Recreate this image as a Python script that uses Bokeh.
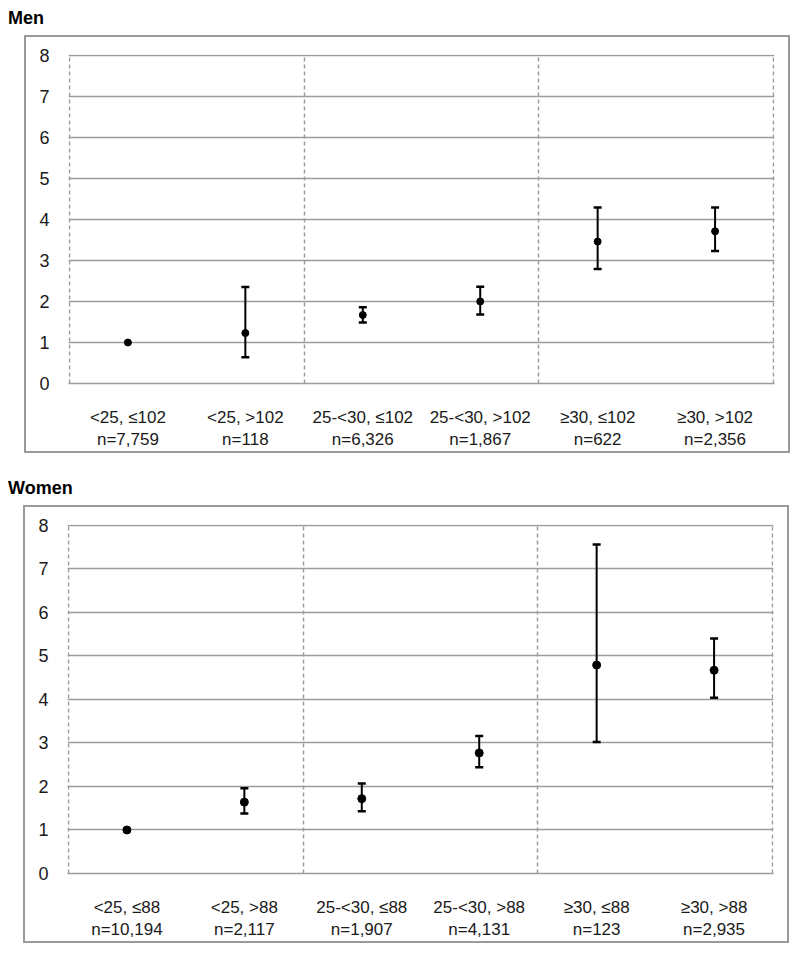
from bokeh.plotting import figure
from bokeh.models import Range1d, FixedTicker, Whisker, TeeHead, ColumnDataSource, Div, Spacer
from bokeh.layouts import column, row
from bokeh.embed import file_html
from bokeh.resources import INLINE

# ---------------- data ----------------
men_cats = ["<25, \u2264102", "<25, >102", "25-<30, \u2264102", "25-<30, >102", "\u226530, \u2264102", "\u226530, >102"]
men_n = ["n=7,759", "n=118", "n=6,326", "n=1,867", "n=622", "n=2,356"]
men_or = [1.0, 1.23, 1.67, 2.0, 3.46, 3.71]
men_lo = [None, 0.64, 1.49, 1.68, 2.79, 3.23]
men_hi = [None, 2.35, 1.86, 2.36, 4.29, 4.29]

women_cats = ["<25, \u226488", "<25, >88", "25-<30, \u226488", "25-<30, >88", "\u226530, \u226488", "\u226530, >88"]
women_n = ["n=10,194", "n=2,117", "n=1,907", "n=4,131", "n=123", "n=2,935"]
women_or = [1.0, 1.64, 1.72, 2.77, 4.79, 4.67]
women_lo = [None, 1.38, 1.43, 2.44, 3.02, 4.04]
women_hi = [None, 1.96, 2.07, 3.16, 7.56, 5.40]

y_ticks = [0, 1, 2, 3, 4, 5, 6, 7, 8]
group_edges = [0, 2, 4, 6]

FONT = "Liberation Sans"
GRID = "#9c9c9c"


def panel(cats, ns, ors, lo, hi, frame_h, msize):
    xs = [i + 0.5 for i in range(len(cats))]
    n = len(cats)
    p = figure(frame_width=702, frame_height=frame_h, output_backend="svg", toolbar_location=None,
               x_range=Range1d(-0.006, n + 0.006), y_range=Range1d(0, 8.02),
               min_border_left=42, min_border_right=18, min_border_top=17,
               min_border_bottom=72, background_fill_color="white", border_fill_color="white",
               styles={"border": "2px solid #9a9a9a"})
    p.outline_line_color = None

    # x axis
    p.xaxis.ticker = FixedTicker(ticks=xs)
    p.xaxis.major_label_overrides = {x: f"{c}\n{m}" for x, c, m in zip(xs, cats, ns)}
    p.xaxis.major_tick_line_color = None
    p.xaxis.minor_tick_line_color = None
    p.xaxis.axis_line_color = GRID
    p.xaxis.axis_line_width = 1.5
    p.xaxis.major_label_text_font = FONT
    p.xaxis.major_label_text_font_size = "17px"
    p.xaxis.major_label_text_color = "#1a1a1a"
    p.xaxis.major_label_standoff = 18

    # y axis
    p.yaxis.ticker = FixedTicker(ticks=y_ticks)
    p.yaxis.major_tick_line_color = None
    p.yaxis.minor_tick_line_color = None
    p.yaxis.axis_line_color = None
    p.yaxis.major_label_text_font = FONT
    p.yaxis.major_label_text_font_size = "18px"
    p.yaxis.major_label_text_color = "#1a1a1a"
    p.yaxis.major_label_standoff = 13

    # grids
    p.ygrid.ticker = FixedTicker(ticks=y_ticks)
    p.ygrid.grid_line_color = GRID
    p.ygrid.grid_line_width = 1.5
    p.xgrid.ticker = FixedTicker(ticks=group_edges)
    p.xgrid.grid_line_color = GRID
    p.xgrid.grid_line_width = 1.5
    p.xgrid.grid_line_dash = "4 3"

    # error bars
    idx = [i for i in range(n) if lo[i] is not None]
    src = ColumnDataSource(dict(x=[xs[i] for i in idx], lo=[lo[i] for i in idx], hi=[hi[i] for i in idx]))
    w = Whisker(base="x", upper="hi", lower="lo", source=src, line_color="black", line_width=2,
                upper_head=TeeHead(size=8, line_width=2.5, line_color="black"),
                lower_head=TeeHead(size=8, line_width=2.5, line_color="black"))
    p.add_layout(w)
    p.scatter(xs, ors, size=msize, color="black")
    return p


title_style = {"font-family": "Liberation Sans, Arial, sans-serif", "font-size": "18px",
               "font-weight": "bold", "color": "#000000"}

t1 = Div(text="Men", width=200, height=29, margin=(6, 0, 0, 8), styles=title_style)
p1 = panel(men_cats, men_n, men_or, men_lo, men_hi, 325, 7)
t2 = Div(text="Women", width=200, height=29, margin=(23, 0, 0, 8), styles=title_style)
p2 = panel(women_cats, women_n, women_or, women_lo, women_hi, 345, 8)

layout = column(t1, row(Spacer(width=24), p1), t2, row(Spacer(width=23), p2))

open("out.html", "w").write(file_html(layout, INLINE))
